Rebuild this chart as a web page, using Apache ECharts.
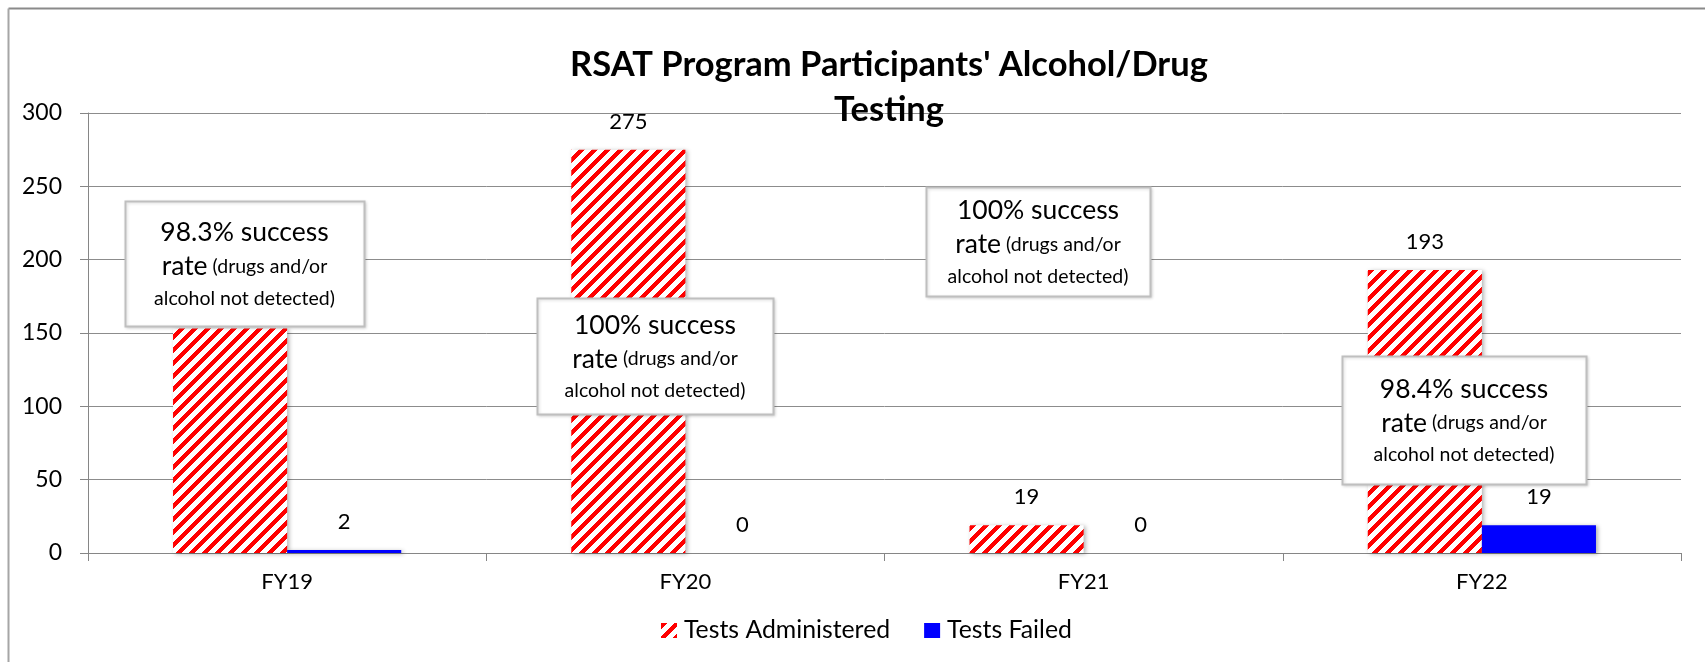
<!DOCTYPE html>
<html>
<head>
<meta charset="utf-8">
<script src="https://cdn.jsdelivr.net/npm/echarts@6/dist/echarts.min.js"></script>
<style>
  html, body { margin: 0; padding: 0; background: #fff; }
  #chart { width: 1705px; height: 662px; }
</style>
</head>
<body>
<div id="chart"></div>
<script>
const categories = ['FY19', 'FY20', 'FY21', 'FY22'];
const testsAdministered = [153, 275, 19, 193];
const testsFailed = [2, 0, 0, 19];
const yTicks = [0, 50, 100, 150, 200, 250, 300];
const seriesNames = ['Tests Administered', 'Tests Failed'];
const titleText = "RSAT Program Participants' Alcohol/Drug\nTesting";
const notes = [
  { big1: '98.3% success', big2: 'rate', small1: '(drugs and/or', small2: 'alcohol not detected)' },
  { big1: '100% success', big2: 'rate', small1: '(drugs and/or', small2: 'alcohol not detected)' },
  { big1: '100% success', big2: 'rate', small1: '(drugs and/or', small2: 'alcohol not detected)' },
  { big1: '98.4% success', big2: 'rate', small1: '(drugs and/or', small2: 'alcohol not detected)' }
];

const FONT = 'Lato';

function makeStripePattern() {
  const s = 13;
  const c = document.createElement('canvas');
  c.width = s; c.height = s;
  const ctx = c.getContext('2d');
  const img = ctx.createImageData(s, s);
  for (let y = 0; y < s; y++) {
    for (let x = 0; x < s; x++) {
      const i = (y * s + x) * 4;
      const red = ((x + y) % s) < 6;
      img.data[i] = 255;
      img.data[i + 1] = red ? 0 : 255;
      img.data[i + 2] = red ? 0 : 255;
      img.data[i + 3] = 255;
    }
  }
  ctx.putImageData(img, 0, 0);
  return c;
}

const chart = echarts.init(document.getElementById('chart'), null, { renderer: 'canvas' });

// annotation box placement (layout only)
const boxes = [
  { x: 125, y: 201, w: 239, h: 125 },
  { x: 537, y: 298, w: 236, h: 116 },
  { x: 926, y: 187, w: 224, h: 109 },
  { x: 1342, y: 356, w: 244, h: 128 }
];

const graphics = [
  { type: 'line', z: 0, silent: true, shape: { x1: 8.5, y1: 8.5, x2: 1705, y2: 8.5 }, style: { stroke: '#8a8a8a', lineWidth: 2 } },
  { type: 'line', z: 0, silent: true, shape: { x1: 8.5, y1: 8.5, x2: 8.5, y2: 662 }, style: { stroke: '#a6a6a6', lineWidth: 2 } }
];
boxes.forEach((b, i) => {
  const n = notes[i];
  graphics.push({
    type: 'rect', z: 100, silent: true,
    shape: { x: b.x + 0.5, y: b.y + 0.5, width: b.w, height: b.h },
    style: { fill: '#ffffff', stroke: '#bfbfbf', lineWidth: 2, shadowColor: 'rgba(0,0,0,0.15)', shadowBlur: 3, shadowOffsetX: 1, shadowOffsetY: 1 }
  });
  graphics.push({
    type: 'text', z: 101, silent: true,
    x: b.x + b.w / 2, y: b.y + b.h / 2 + 1,
    style: {
      text: '{a|' + n.big1 + '}\n{a|' + n.big2 + '}{b| ' + n.small1 + '}\n{b|' + n.small2 + '}',
      align: 'center', verticalAlign: 'middle',
      rich: {
        a: { fontFamily: FONT, fontSize: 26.5, lineHeight: 34, fill: '#000' },
        b: { fontFamily: FONT, fontSize: 19.5, lineHeight: 30, fill: '#000' }
      }
    }
  });
});

const labelStyle = {
  show: true, position: 'top', distance: 17,
  fontFamily: FONT, fontSize: 22, color: '#000'
};

const option = {
  animation: false,
  backgroundColor: '#ffffff',
  textStyle: { fontFamily: FONT },
  title: {
    text: titleText,
    left: 884, top: 37, textAlign: 'center',
    textStyle: { fontFamily: FONT, fontSize: 34.5, fontWeight: 'bold', color: '#000', lineHeight: 45 }
  },
  legend: {
    data: seriesNames,
    left: 656, top: 613,
    itemWidth: 16, itemHeight: 15, itemGap: 34,
    icon: 'rect',
    textStyle: { fontFamily: FONT, fontSize: 24.8, color: '#000', padding: [0, 0, 0, 2] }
  },
  grid: { left: 88, right: 24, top: 113, bottom: 109, containLabel: false },
  xAxis: {
    type: 'category',
    data: categories,
    axisLine: { show: true, lineStyle: { color: '#868686', width: 1 } },
    axisTick: { show: true, alignWithLabel: false, length: 8, lineStyle: { color: '#868686' } },
    axisLabel: { margin: 18, fontFamily: FONT, fontSize: 22, color: '#000' },
    splitLine: { show: false }
  },
  yAxis: {
    type: 'value',
    min: 0, max: 300, interval: 50,
    axisLine: { show: true, lineStyle: { color: '#868686', width: 1 } },
    axisTick: { show: true, length: 8, lineStyle: { color: '#868686' } },
    axisLabel: {
      margin: 26, fontFamily: FONT, fontSize: 23, color: '#000',
      formatter: v => (yTicks.indexOf(v) >= 0 ? String(v) : '')
    },
    splitLine: { show: true, lineStyle: { color: '#8c8c8c', width: 1 } }
  },
  series: [
    {
      name: seriesNames[0],
      type: 'bar',
      data: testsAdministered,
      barGap: '0%',
      barCategoryGap: '42.7%',
      itemStyle: {
        color: { image: makeStripePattern(), repeat: 'repeat' },
        shadowColor: 'rgba(0,0,0,0.3)', shadowBlur: 4, shadowOffsetX: 2, shadowOffsetY: 1
      },
      label: labelStyle
    },
    {
      name: seriesNames[1],
      type: 'bar',
      data: testsFailed,
      barGap: '0%',
      barCategoryGap: '42.7%',
      itemStyle: {
        color: '#0000ff',
        shadowColor: 'rgba(0,0,0,0.3)', shadowBlur: 4, shadowOffsetX: 2, shadowOffsetY: 1
      },
      label: labelStyle
    }
  ],
  graphic: graphics
};

chart.setOption(option);
</script>
</body>
</html>
